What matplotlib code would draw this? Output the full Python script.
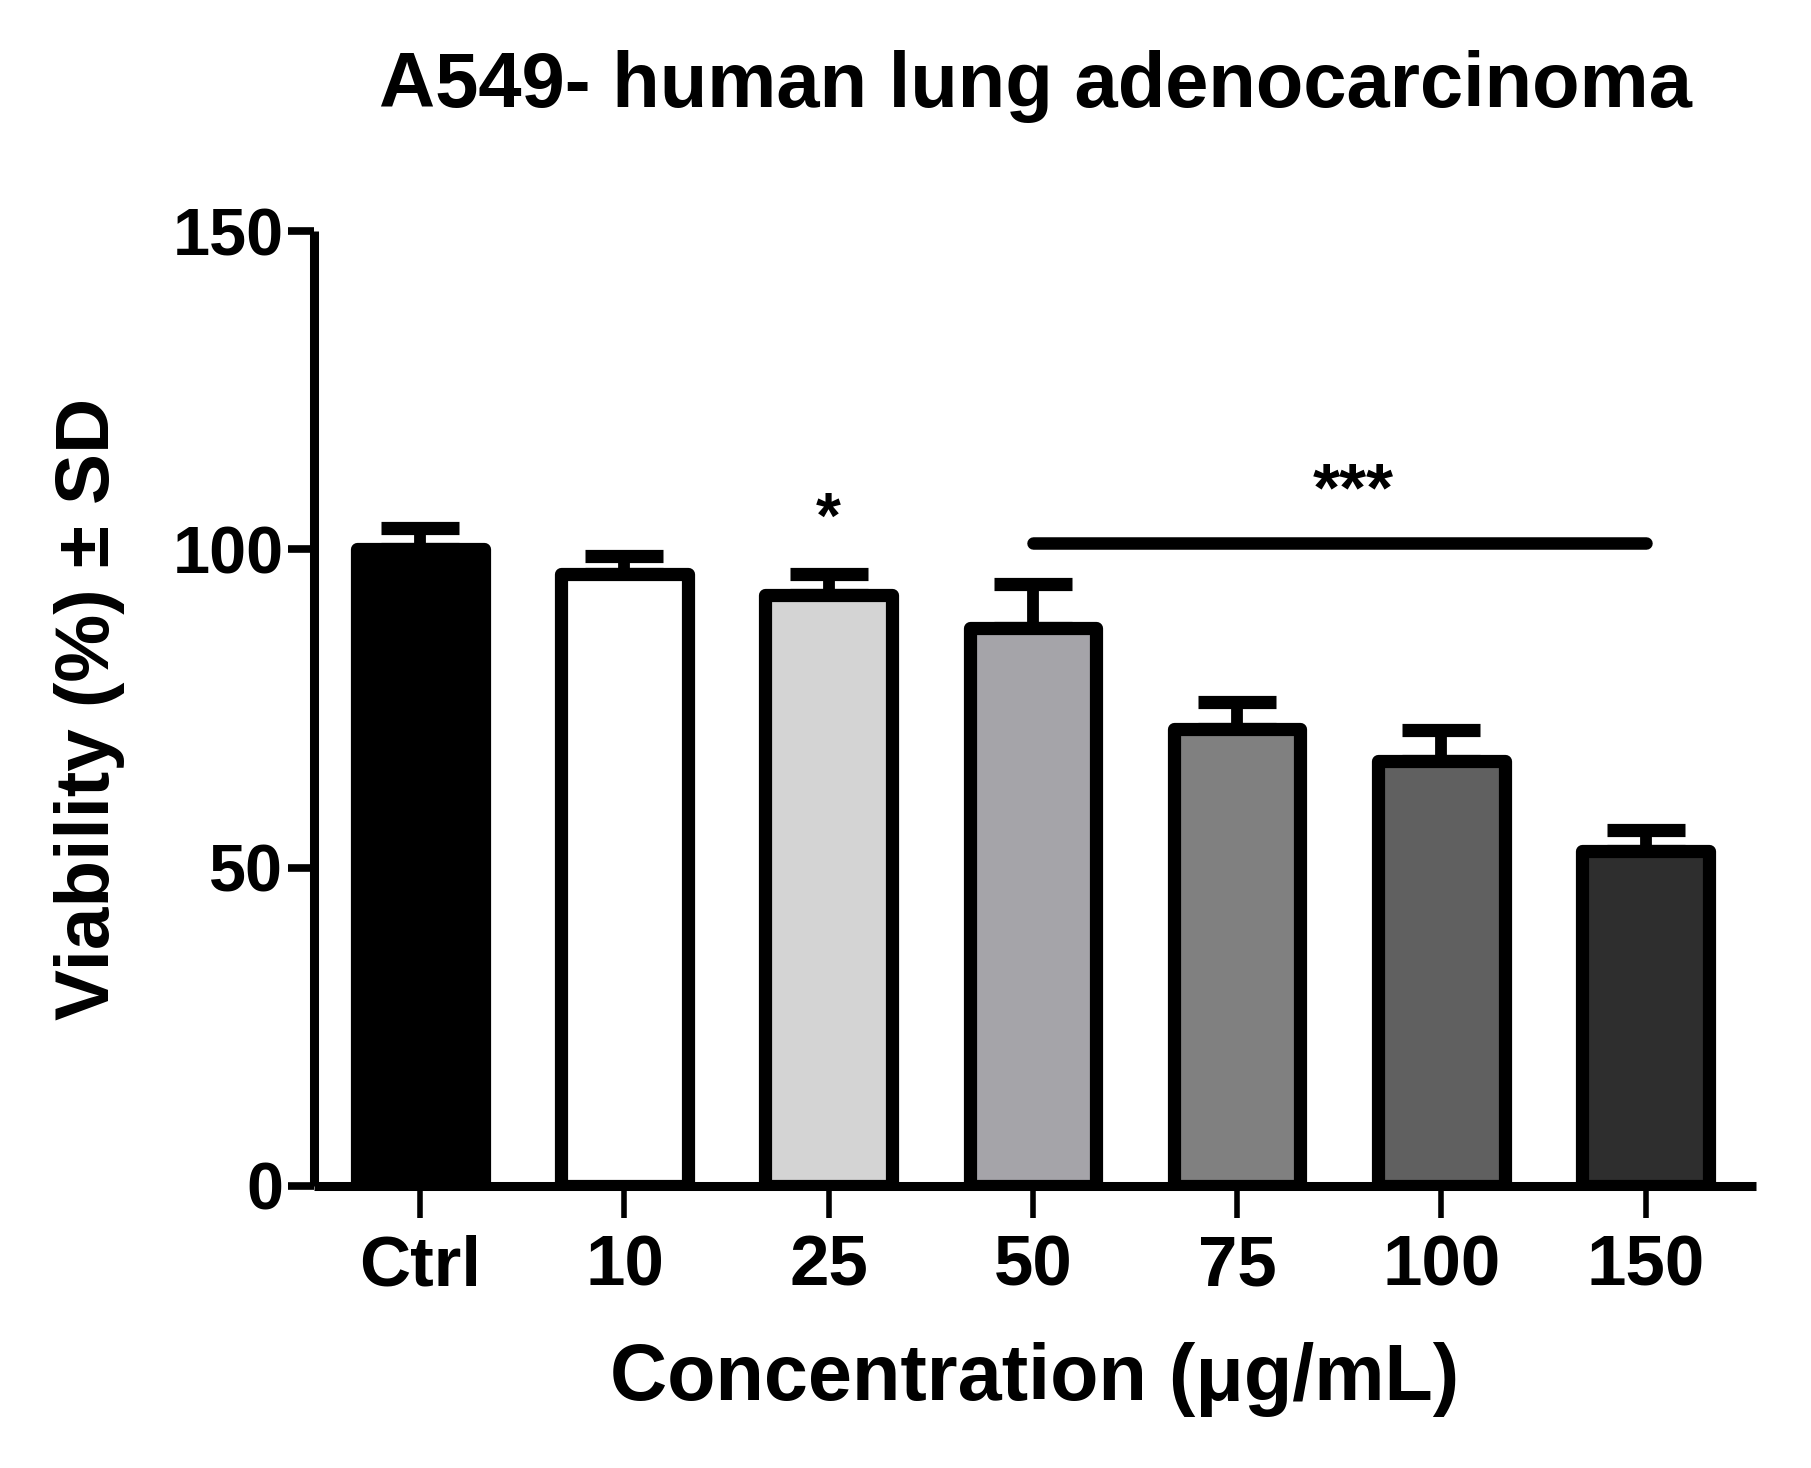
import matplotlib
matplotlib.use("Agg")
import matplotlib.pyplot as plt
import numpy as np

# ---- data ----
categories = ["Ctrl", "10", "25", "50", "75", "100", "150"]
viability = [100.0, 96.1, 92.9, 87.6, 71.8, 66.7, 52.6]
sd = [3.4, 2.9, 3.2, 6.9, 4.2, 4.9, 3.3]
bar_colors = ["#000000", "#ffffff", "#d4d4d4", "#a5a4a9", "#808080", "#606060", "#2e2e2e"]
yticks = [0, 50, 100, 150]
title = "A549- human lung adenocarcinoma"
xlabel = "Concentration (\u03bcg/mL)"
ylabel = "Viability (%) \u00b1 SD"
sig_single = ("*", 2, 104.5)            # label, x position, y
sig_bar = ("***", 3, 6, 101, 4.57, 109)  # label, from idx, to idx, line y, text x, text y

plt.rcParams['font.family'] = ['Liberation Sans', 'DejaVu Sans']

fig = plt.figure(figsize=(18.11, 14.68), dpi=100)
ax = fig.add_axes([0.1734, 0.1921, 0.7962, 0.6505])

x = np.arange(len(categories))
bars = ax.bar(x, viability, width=0.62, color=bar_colors, edgecolor="black",
              linewidth=9.5, zorder=3)
for b in bars:
    b.set_joinstyle("round")

eb = ax.errorbar(x, viability, yerr=[np.zeros(len(sd)), sd], fmt="none",
                 ecolor="black", elinewidth=8.5, capsize=28, capthick=9.5, zorder=2)
for cl in eb[1]:
    cl.set_solid_capstyle("round")

# significance annotations
ax.text(sig_single[1], sig_single[2], sig_single[0], ha="center", va="center",
        fontsize=46, fontweight="bold", color="black")
ax.plot([sig_bar[1], sig_bar[2]], [sig_bar[3], sig_bar[3]], color="black",
        linewidth=9, solid_capstyle="round", zorder=4)
ax.text(sig_bar[4], sig_bar[5], sig_bar[0], ha="center",
        va="center", fontsize=50, fontweight="bold", color="black")

ax.set_xlim(-0.52, 6.54)
ax.set_ylim(0, 150)
ax.set_yticks(yticks)
ax.set_xticks(x)
ax.set_xticklabels(categories)

for s in ["top", "right"]:
    ax.spines[s].set_visible(False)
for s in ["left", "bottom"]:
    ax.spines[s].set_linewidth(6.5)
    ax.spines[s].set_capstyle("butt")

ax.tick_params(axis="y", length=19, width=5.5, labelsize=48, pad=3)
ax.tick_params(axis="x", length=23, width=4, labelsize=51, pad=12)
for lab in ax.get_yticklabels() + ax.get_xticklabels():
    lab.set_fontweight("bold")

ax.set_xlabel(xlabel, fontsize=57, fontweight="bold", labelpad=30)
ax.set_ylabel(ylabel, fontsize=55, fontweight="bold", labelpad=34)
fig.text(0.572, 0.941, title, ha="center", va="center", fontsize=56, fontweight="bold")

fig.savefig("out.png", dpi=100, facecolor="white")
